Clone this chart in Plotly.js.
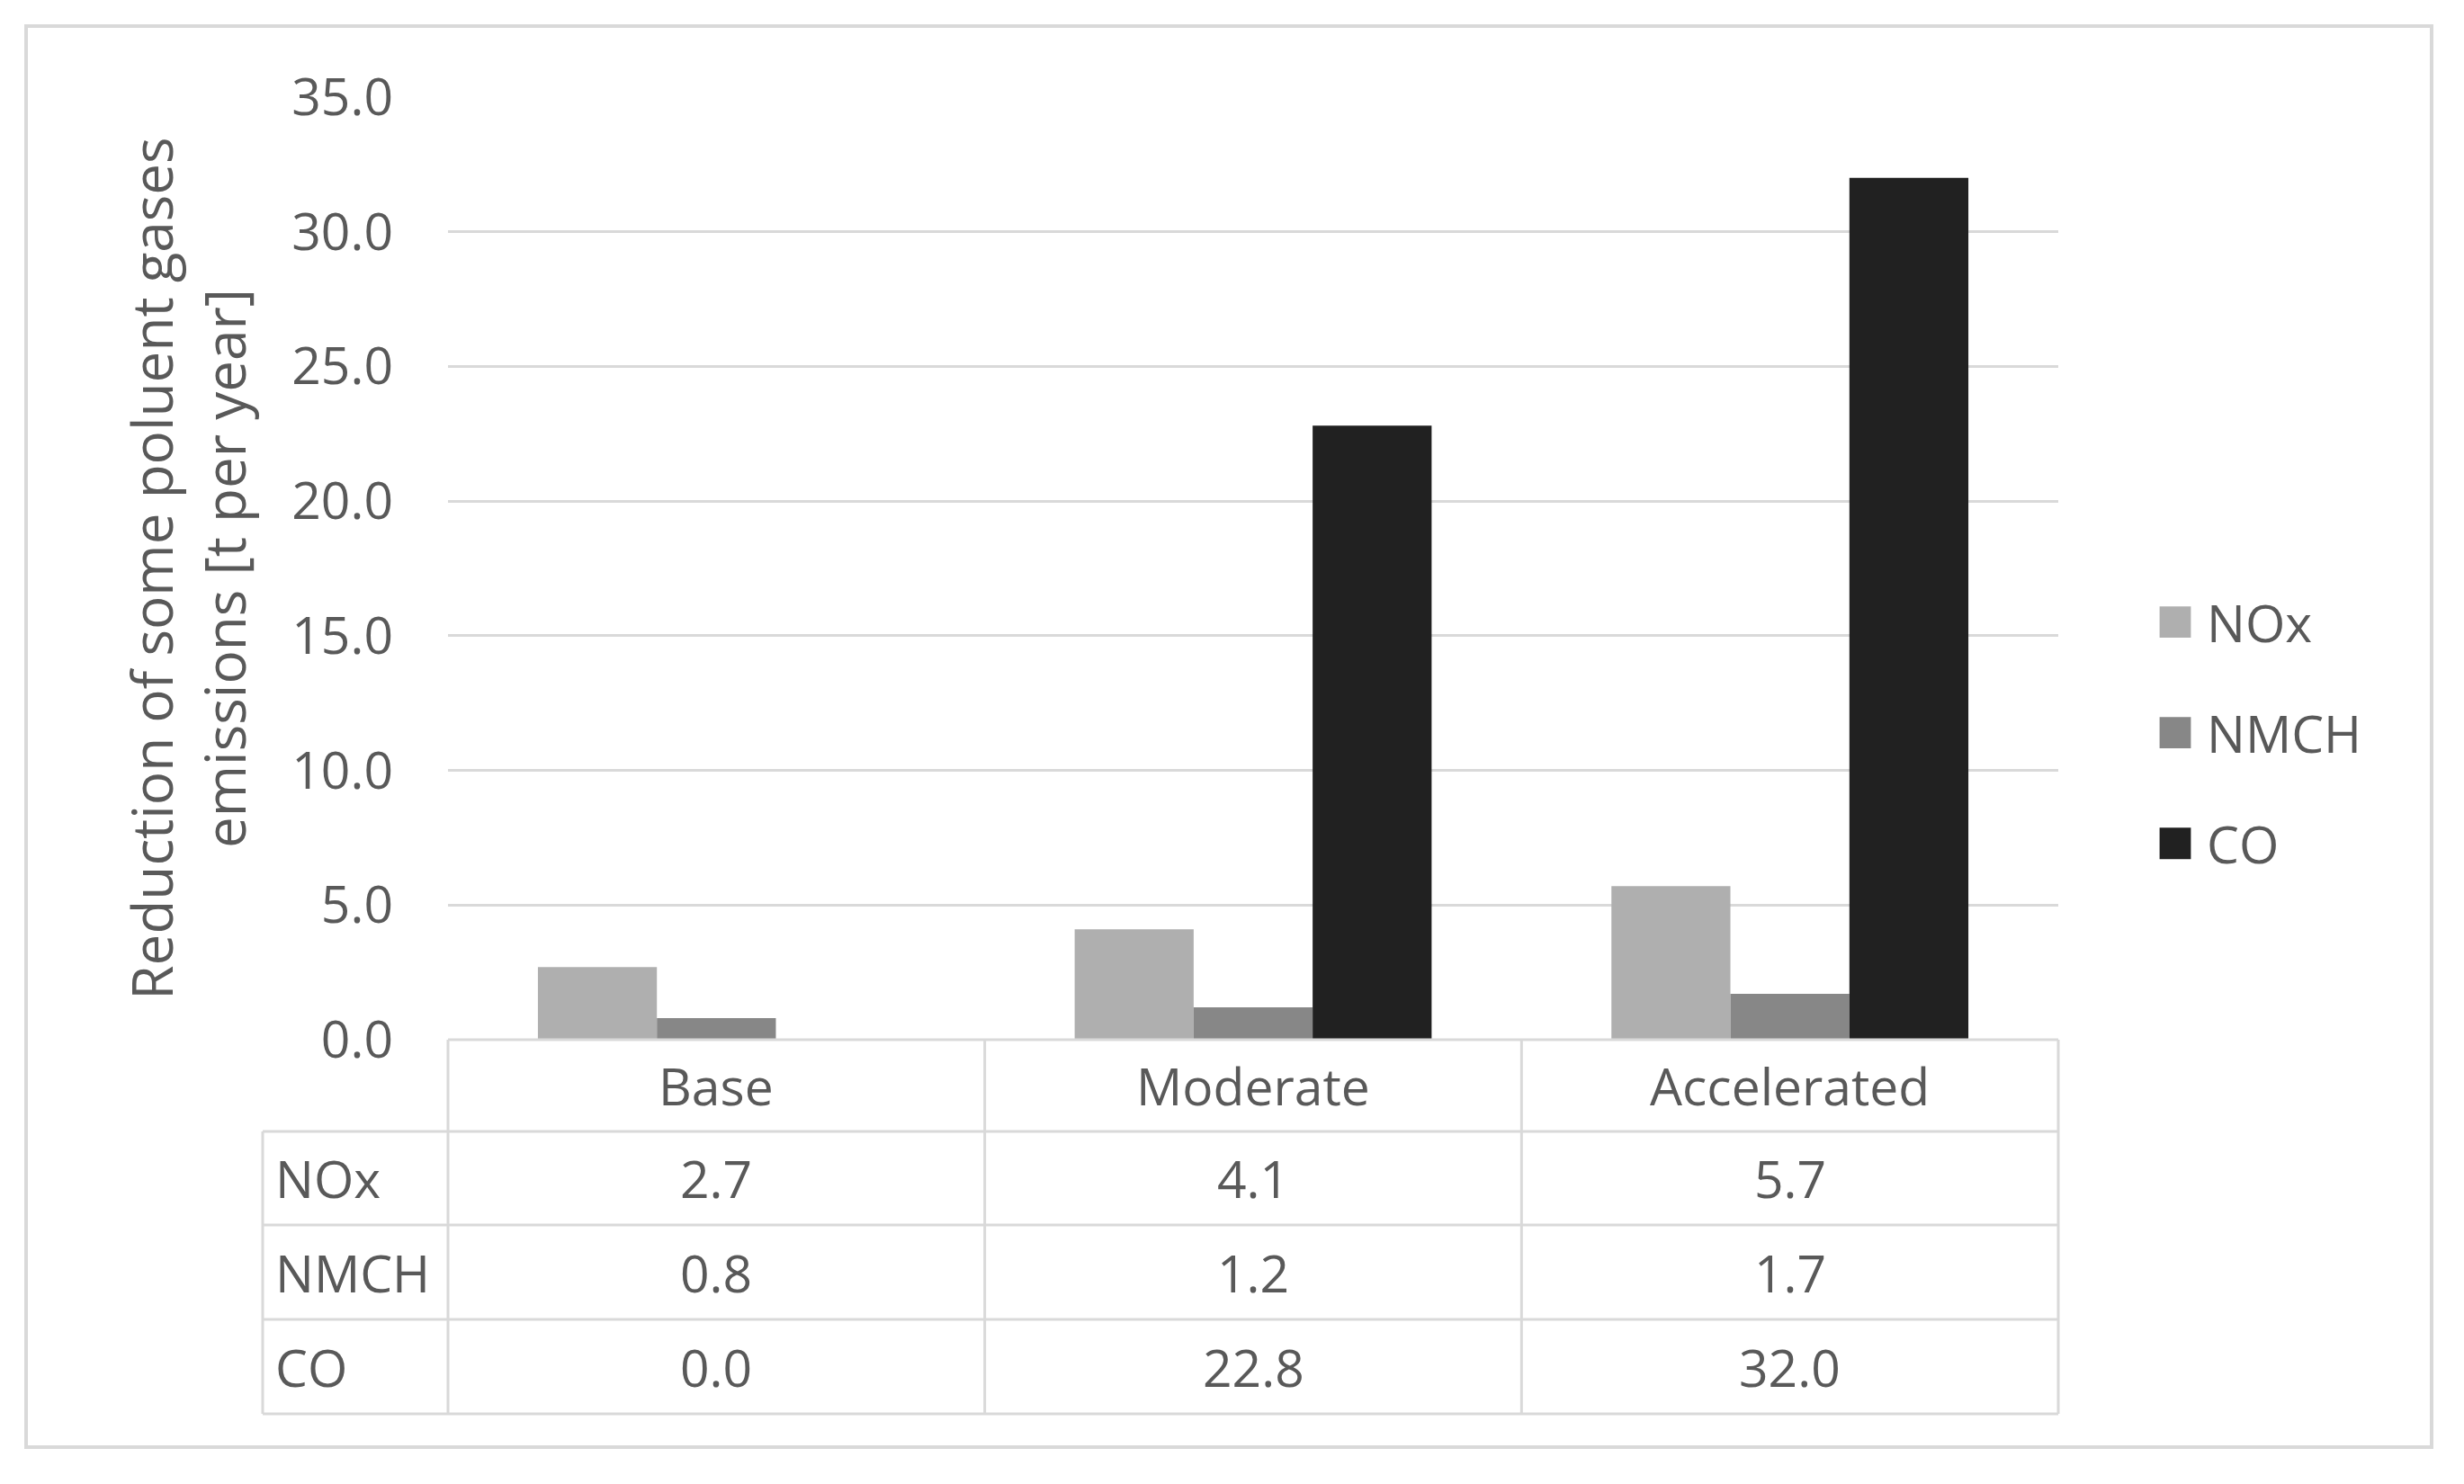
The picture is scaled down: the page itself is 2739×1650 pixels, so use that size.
<!DOCTYPE html>
<html>
<head>
<meta charset="utf-8">
<script src="https://cdn.plot.ly/plotly-3.0.1.min.js"></script>
<style>html,body{margin:0;padding:0;background:#fff;}#chart{width:2739px;height:1650px;}</style>
</head>
<body>
<div id="chart"></div>
<script>
// ---- data ----
const categories = ["Base", "Moderate", "Accelerated"];
const seriesNames = ["NOx", "NMCH", "CO"];
const noxValues = [2.7, 4.1, 5.7];
const nmchValues = [0.8, 1.2, 1.7];
const coValues = [0.0, 22.8, 32.0];
const yTickValues = [0, 5, 10, 15, 20, 25, 30, 35];
const yTitle = "Reduction of some poluent gases<br>emissions [t per year]";

// ---- style ----
const W = 2739, H = 1650;
const PL = 498, PR = 2288, PT = 108, PB = 1156;
const FONT = '"Open Sans", "Noto Sans", sans-serif';
const TXT = '#595959';
const LINE = '#d9d9d9';
const FS = 57;
const colors = ['#afafaf', '#878787', '#212121'];
const seriesValues = [noxValues, nmchValues, coValues];

const px2x = x => (x - PL) / (PR - PL);
const px2y = y => (PB - y) / (PB - PT);

const traces = seriesNames.map((name, i) => ({
  type: 'bar',
  name: name,
  x: categories,
  y: seriesValues[i],
  marker: {color: colors[i], line: {width: 0}},
  legendgroup: name,
  hoverinfo: 'x+y+name'
}));

// table geometry (pixels)
const rowLines = [1156, 1258, 1362, 1467, 1572];
const labelLeft = 292;
const colEdges = [0, 1 / 3, 2 / 3, 1];

const shapes = [];
// outer chart border
shapes.push({type: 'rect', xref: 'paper', yref: 'paper',
  x0: px2x(29), x1: px2x(2703), y0: px2y(29), y1: px2y(1609),
  line: {color: LINE, width: 4}, fillcolor: 'rgba(0,0,0,0)', layer: 'below'});
// header top line (category columns only)
shapes.push({type: 'line', xref: 'paper', yref: 'paper', x0: 0, x1: 1,
  y0: px2y(rowLines[0]), y1: px2y(rowLines[0]), line: {color: LINE, width: 3}});
// data row lines span label column too
for (let r = 1; r < rowLines.length; r++) {
  shapes.push({type: 'line', xref: 'paper', yref: 'paper', x0: px2x(labelLeft), x1: 1,
    y0: px2y(rowLines[r]), y1: px2y(rowLines[r]), line: {color: LINE, width: 3}});
}
// label column left edge
shapes.push({type: 'line', xref: 'paper', yref: 'paper', x0: px2x(labelLeft), x1: px2x(labelLeft),
  y0: px2y(rowLines[1]), y1: px2y(rowLines[4]), line: {color: LINE, width: 3}});
// category column edges
colEdges.forEach(cx => {
  shapes.push({type: 'line', xref: 'paper', yref: 'paper', x0: cx, x1: cx,
    y0: px2y(rowLines[0]), y1: px2y(rowLines[4]), line: {color: LINE, width: 3}});
});

const annotations = [];
const afont = {family: FONT, size: FS, color: TXT};
// header: category names
categories.forEach((c, j) => {
  annotations.push({xref: 'paper', yref: 'paper', x: (colEdges[j] + colEdges[j + 1]) / 2,
    y: px2y((rowLines[0] + rowLines[1]) / 2), text: c, showarrow: false,
    xanchor: 'center', yanchor: 'middle', font: afont});
});
// rows
seriesNames.forEach((s, i) => {
  const yc = px2y((rowLines[i + 1] + rowLines[i + 2]) / 2);
  annotations.push({xref: 'paper', yref: 'paper', x: px2x(labelLeft + 12), y: yc,
    text: s, showarrow: false, xanchor: 'left', yanchor: 'middle', font: afont});
  seriesValues[i].forEach((v, j) => {
    annotations.push({xref: 'paper', yref: 'paper', x: (colEdges[j] + colEdges[j + 1]) / 2, y: yc,
      text: v.toFixed(1), showarrow: false, xanchor: 'center', yanchor: 'middle', font: afont});
  });
});

const layout = {
  width: W, height: H,
  margin: {l: PL, r: W - PR, t: PT, b: H - PB, pad: 0},
  paper_bgcolor: '#ffffff', plot_bgcolor: '#ffffff',
  font: {family: FONT, size: FS, color: TXT},
  barmode: 'group',
  bargap: 0.335,
  bargroupgap: 0,
  showlegend: true,
  legend: {
    x: px2x(2398), xanchor: 'left', y: px2y(815), yanchor: 'middle',
    font: {family: FONT, size: FS, color: TXT},
    traceorder: 'grouped', tracegroupgap: 46, itemwidth: 45,
    bgcolor: 'rgba(0,0,0,0)', borderwidth: 0
  },
  xaxis: {
    type: 'category', showticklabels: false, showgrid: false, zeroline: false,
    showline: false, ticks: '', fixedrange: true, automargin: false
  },
  yaxis: {
    range: [0, 35], tickvals: yTickValues, tickformat: '.1f',
    showgrid: true, gridcolor: LINE, gridwidth: 3, zeroline: false, showline: false,
    ticks: '', ticklabelstandoff: 60,
    tickfont: {family: FONT, size: FS, color: TXT},
    title: {text: yTitle, font: {family: FONT, size: 62, color: TXT}, standoff: 30},
    automargin: false, fixedrange: true
  },
  shapes: shapes,
  annotations: annotations
};

Plotly.newPlot('chart', traces, layout, {displayModeBar: false, staticPlot: true}).then(() => {
  document.querySelectorAll('.legend .legendpoints path').forEach(p => {
    p.setAttribute('transform', 'translate(20,0) scale(2.9)');
  });
});
</script>
</body>
</html>
